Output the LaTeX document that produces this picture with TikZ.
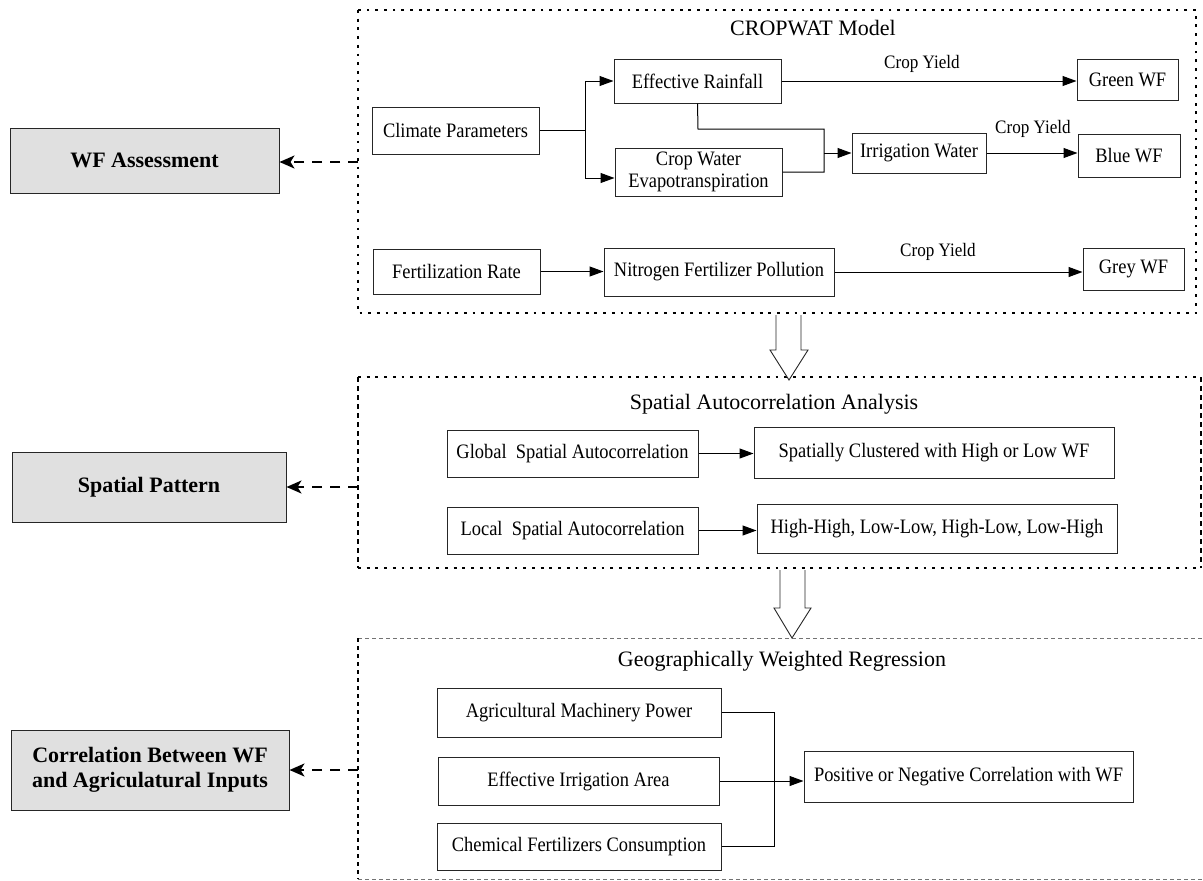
\documentclass[tikz,border=0pt]{standalone}
\usepackage{fontspec}
\setmainfont{Liberation Serif}
\newfontfamily\bxfont{Liberation Serif}[FakeStretch=0.9]
\usetikzlibrary{arrows.meta}
\begin{document}
\begin{tikzpicture}[x=1pt,y=-1pt,
  bx/.style={draw=black!85, line width=1pt, fill=white, inner sep=0pt, align=center, font=\bxfont\fontsize{20.5}{21.5}\selectfont},
  lbl/.style={draw=black!85, line width=1pt, fill=black!12, inner sep=0pt, align=center, font=\fontsize{22}{25}\selectfont\bfseries},
  ttl/.style={inner sep=0pt, font=\fontsize{22}{24}\selectfont},
  cy/.style={inner sep=0pt, font=\bxfont\fontsize{19}{21}\selectfont},
  con/.style={line width=1pt, black},
  arr/.style={con, -{Triangle[length=14pt,width=10pt]}},
  darr/.style={line width=2pt, dash pattern=on 10pt off 8pt, -{Stealth[length=15pt,width=13pt,inset=4pt]}},
  dotframe/.style={line width=2.8pt, dash pattern=on 2.8pt off 5.9pt},
  thinframe/.style={line width=1.2pt, dash pattern=on 5pt off 4pt},
  faintframe/.style={line width=0.8pt, black!55, dash pattern=on 4pt off 3pt},
  leftframe/.style={line width=1.6pt, dash pattern=on 4pt off 4pt},
  hollow/.style={line width=0.9pt, draw=black!85, fill=white}
]
\useasboundingbox (0,0) rectangle (1203,881);

% ---------- frames ----------
\draw[dotframe] (358,10) rectangle (1196,313);
\draw[dotframe] (358,377) -- (1201,377);
\draw[dotframe] (358,568) -- (1201,568);
\draw[thinframe] (358,377) -- (358,568);
\draw[thinframe] (1201,377) -- (1201,568);
\draw[faintframe] (358,638) -- (1203,638);
\draw[faintframe] (358,879) -- (1203,879);
\draw[leftframe] (358,638) -- (358,879);

% ---------- hollow arrows ----------
\fill[white] (776,315) -- (776,350) -- (770,350) -- (789,380) -- (808,350) -- (801,350) -- (801,315) -- cycle;
\draw[hollow, fill=none] (776,315) -- (776,350) -- (770,350) -- (789,380) -- (808,350) -- (801,350) -- (801,315);
\fill[white] (780,570) -- (780,608) -- (774,608) -- (792,638) -- (811,608) -- (805,608) -- (805,570) -- cycle;
\draw[hollow, fill=none] (780,570) -- (780,608) -- (774,608) -- (792,638) -- (811,608) -- (805,608) -- (805,570);

% ---------- CROPWAT model ----------
\node[ttl] (t1) at (813,28) {CROPWAT Model};
\node[bx, minimum width=167pt, minimum height=47pt] (clim) at (455.5,130.5) {Climate Parameters};
\node[bx, minimum width=167pt, minimum height=44pt] (er) at (697.5,81) {Effective Rainfall};
\node[bx, minimum width=167pt, minimum height=48pt] (cwe) at (698.5,172) {Crop Water\\Evapotranspiration};
\node[bx, minimum width=101pt, minimum height=41pt] (gwf) at (1127.5,79.5) {Green WF};
\node[bx, minimum width=134pt, minimum height=40pt] (iw) at (919,153) {Irrigation Water};
\node[bx, minimum width=102pt, minimum height=43pt] (bwf) at (1129,155.5) {Blue WF};
\node[bx, minimum width=167pt, minimum height=45pt] (fr) at (456.5,271.5) {Fertilization Rate};
\node[bx, minimum width=230pt, minimum height=48pt] (nfp) at (719,272) {Nitrogen Fertilizer Pollution};
\node[bx, minimum width=101pt, minimum height=42pt] (gry) at (1133.5,269) {Grey WF};
\node[cy] (cy1) at (922,64) {Crop Yield};
\node[cy] (cy2) at (1033,129) {Crop Yield};
\node[cy] (cy3) at (938,252) {Crop Yield};

\coordinate (spm) at (585,130.5);
\coordinate (spt) at (585,81);
\coordinate (spb) at (585,178);
\draw[con] (clim.east) -- (spm);
\draw[con] (spt) -- (spb);
\draw[arr] (spt) -- (er.west);
\draw[arr] (spb) -- (spb -| cwe.west);
\draw[arr] (er.east) -- (er.east -| gwf.west);
\coordinate (ja) at (698,129);
\coordinate (jb) at (824,129);
\coordinate (jc) at (824,153);
\draw[con] (er.south) -- (ja) -- (jb) -- (jb |- cwe.east) -- (cwe.east);
\draw[arr] (jc) -- (iw.west);
\draw[arr] (iw.east) -- (iw.east -| bwf.west);
\draw[arr] (fr.east) -- (fr.east -| nfp.west);
\draw[arr] (nfp.east) -- (nfp.east -| gry.west);

% ---------- Spatial autocorrelation ----------
\node[ttl] (t2) at (774,404) {Spatial Autocorrelation Analysis};
\node[bx, minimum width=251pt, minimum height=47pt] (glob) at (572.5,453.5) {Global\ \ Spatial Autocorrelation};
\node[bx, minimum width=360pt, minimum height=51pt] (clus) at (934,452.5) {Spatially Clustered with High or Low WF};
\node[bx, minimum width=251pt, minimum height=47pt] (loc) at (572.5,530.5) {Local\ \ Spatial Autocorrelation};
\node[bx, minimum width=360pt, minimum height=49pt] (hh) at (937,528.5) {High-High, Low-Low, High-Low, Low-High};
\draw[arr] (glob.east) -- (glob.east -| clus.west);
\draw[arr] (loc.east) -- (loc.east -| hh.west);

% ---------- GWR ----------
\node[ttl] (t3) at (782,661) {Geographically Weighted Regression};
\node[bx, minimum width=284pt, minimum height=49pt] (amp) at (579,712.5) {Agricultural Machinery Power};
\node[bx, minimum width=281pt, minimum height=48pt] (eia) at (578.5,781) {Effective Irrigation Area};
\node[bx, minimum width=284pt, minimum height=47pt] (cfc) at (579,846.5) {Chemical Fertilizers Consumption};
\node[bx, minimum width=329pt, minimum height=51pt] (pos) at (968.5,776.5) {Positive or Negative Correlation with WF};
\coordinate (brk) at (774,712.5);
\draw[con] (amp.east) -- (brk) -- (brk |- cfc.east) -- (cfc.east);
\draw[arr] (eia.east) -- (eia.east -| pos.west);

% ---------- left labels ----------
\node[lbl, minimum width=269pt, minimum height=65pt] (wfa) at (144.5,160.5) {WF Assessment};
\node[lbl, minimum width=274pt, minimum height=70pt] (spp) at (149,487) {Spatial Pattern};
\node[lbl, minimum width=278pt, minimum height=80pt] (cor) at (150,770) {Correlation Between WF\\and Agriculatural Inputs};
\coordinate (d1) at (358,162);
\coordinate (d2) at (358,487);
\coordinate (d3) at (358,770);
\draw[darr] (d1) -- (d1 -| wfa.east);
\draw[darr] (d2) -- (spp.east);
\draw[darr] (d3) -- (cor.east);
\end{tikzpicture}
\end{document}
